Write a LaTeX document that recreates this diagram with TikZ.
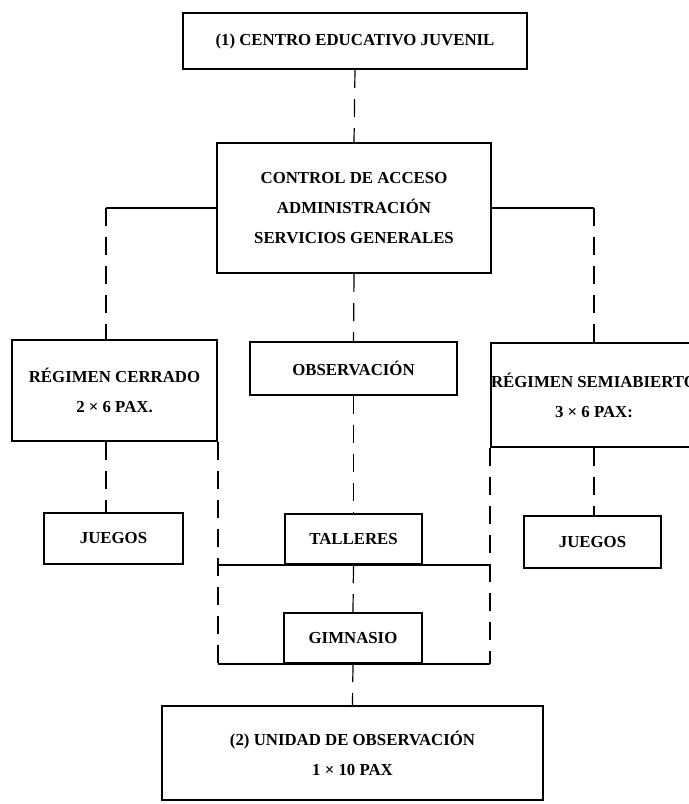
\documentclass[tikz,border=0pt]{standalone}
\usepackage{fontspec}
\setmainfont{Liberation Serif}
\begin{document}
\begin{tikzpicture}[x=0.5pt, y=-0.5pt,
    box/.style={draw, line width=1pt, inner sep=0pt, align=center,
      font=\fontsize{8.4pt}{15pt}\selectfont\bfseries},
    wire/.style={line width=0.6pt},
    link/.style={wire, dash pattern=on 9pt off 5.5pt}]
    \useasboundingbox (0,0) rectangle (689,804);

    \node[box, minimum width=172pt, minimum height=28pt] (centro) at (355,41) {(1) CENTRO EDUCATIVO JUVENIL};
    \node[box, minimum width=137pt, minimum height=65pt] (control) at (354,208) {CONTROL DE ACCESO\\ADMINISTRACIÓN\\SERVICIOS GENERALES};

    \node[box, minimum width=102.5pt, minimum height=50.5pt] (cerrado) at (114.5,390) {RÉGIMEN CERRADO\\2 × 6 PAX.};
    \node[box, minimum width=103.5pt, minimum height=26.5pt] (obs) at (353.5,368.5) {OBSERVACIÓN};
    \node[box, minimum width=103pt, minimum height=52pt] (semi) at (594,395) {RÉGIMEN SEMIABIERTO\\3 × 6 PAX:};

    \node[box, minimum width=69.5pt, minimum height=25.5pt] (juegosA) at (113.5,538.5) {JUEGOS};
    \node[box, minimum width=68.5pt, minimum height=25pt] (talleres) at (353.5,539) {TALLERES};
    \node[box, minimum width=68.5pt, minimum height=26pt] (juegosB) at (592.5,542) {JUEGOS};
    \node[box, minimum width=69pt, minimum height=25pt] (gimnasio) at (353,638) {GIMNASIO};

    \node[box, minimum width=190.5pt, minimum height=47pt] (unidad) at (352.5,753) {(2) UNIDAD DE OBSERVACIÓN\\1 × 10 PAX};

    % ramas del control
    \coordinate (lb) at ([xshift=-4.25pt]cerrado.north |- control.west);
    \coordinate (rb) at (semi.north |- control.east);
    \draw[link] (centro.south) -- (control.north);
    \draw[wire] (control.west) -- (lb);
    \draw[link] (lb) -- (lb |- cerrado.north);
    \draw[wire] (control.east) -- (rb);
    \draw[link] (rb) -- (semi.north);
    \draw[link] (control.south) -- (obs.north);

    \draw[link] ([xshift=-4.25pt]cerrado.south) -- ([xshift=-4.25pt]cerrado.south |- juegosA.north);
    \draw[link] (semi.south) -- (semi.south |- juegosB.north);
    \draw[link] (obs.south) -- (talleres.north);
    \draw[link] (talleres.south) -- (gimnasio.north);
    \draw[link] (gimnasio.south) -- (unidad.north);

    % marco de talleres y gimnasio
    \draw[link] (cerrado.south east) -- (cerrado.south east |- gimnasio.south);
    \draw[link] (semi.south west) -- (semi.south west |- gimnasio.south);
    \draw[wire] (cerrado.east |- talleres.south) -- (semi.west |- talleres.south);
    \draw[wire] (cerrado.east |- gimnasio.south) -- (semi.west |- gimnasio.south);
\end{tikzpicture}
\end{document}
